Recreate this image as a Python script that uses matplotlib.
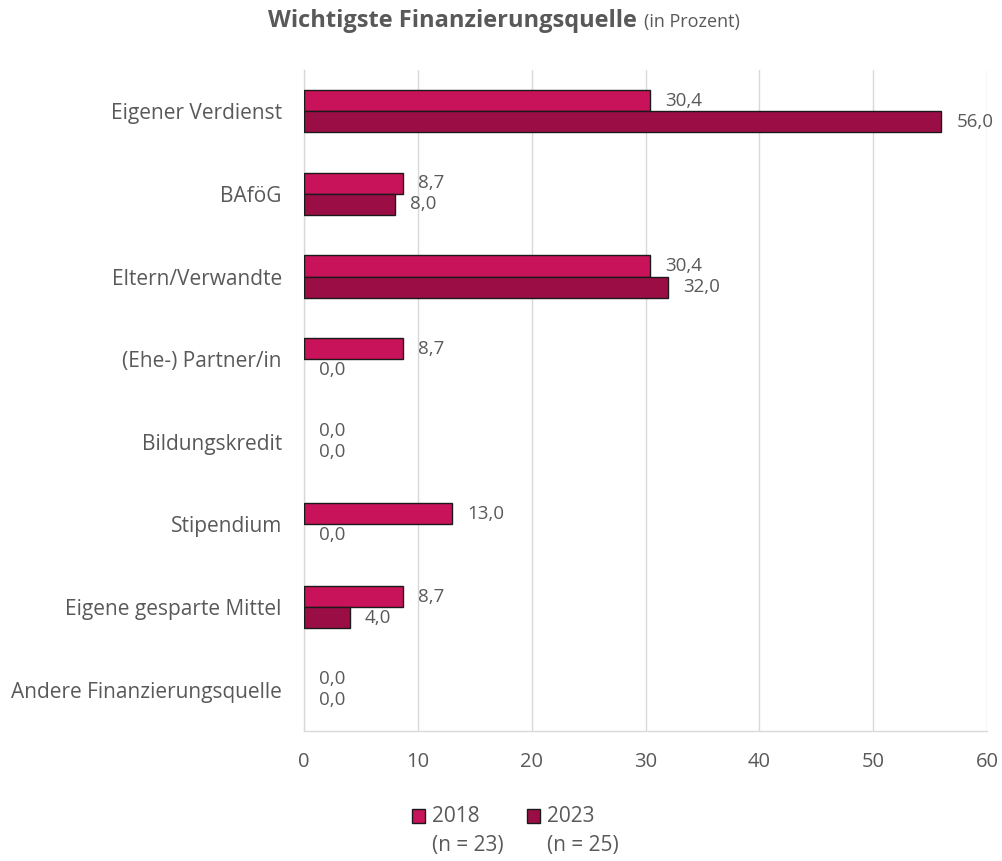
import matplotlib
matplotlib.use("Agg")
import matplotlib.pyplot as plt
from matplotlib.patches import Rectangle
import numpy as np

plt.rcParams['font.family'] = ['Open Sans', 'DejaVu Sans']

categories = ["Eigener Verdienst", "BAföG", "Eltern/Verwandte", "(Ehe-) Partner/in",
              "Bildungskredit", "Stipendium", "Eigene gesparte Mittel",
              "Andere Finanzierungsquelle"]
values_2018 = [30.4, 8.7, 30.4, 8.7, 0.0, 13.0, 8.7, 0.0]
values_2023 = [56.0, 8.0, 32.0, 0.0, 0.0, 0.0, 4.0, 0.0]
series_names = ["2018", "2023"]
series_n = ["(n = 23)", "(n = 25)"]
xticks = [0, 10, 20, 30, 40, 50, 60]

c2018 = "#C8125A"
c2023 = "#9B0E45"
txt = "#595959"

W, H = 1003, 861
fig = plt.figure(figsize=(W/100, H/100), dpi=100)
ax = fig.add_axes([304/W, 1-731/H, (987-304)/W, (731-70)/H])

n = len(categories)
y = np.arange(n)
h = 0.255
b1 = ax.barh(y - h/2, values_2018, height=h, color=c2018, edgecolor="#1a1a1a", linewidth=1.0, zorder=3)
b2 = ax.barh(y + h/2, values_2023, height=h, color=c2023, edgecolor="#1a1a1a", linewidth=1.0, zorder=3)

def fmt(v):
    return f"{v:.1f}".replace(".", ",")

for bars, vals in ((b1, values_2018), (b2, values_2023)):
    for rect, v in zip(bars, vals):
        if v == 0:
            rect.set_linewidth(0)
        ax.annotate(fmt(v), xy=(v, rect.get_y() + rect.get_height()/2),
                    xytext=(11, 0), textcoords="offset points",
                    ha="left", va="center", fontsize=13.5, color=txt)

ax.set_ylim(n - 0.5, -0.5)
ax.set_xlim(0, 60)
ax.set_xticks(xticks)
ax.set_xticklabels([str(t) for t in xticks], fontsize=14.5, color=txt)
ax.set_yticks(y)
ax.set_yticklabels(categories, fontsize=15, color=txt)
ax.tick_params(axis="both", length=0)
ax.tick_params(axis="x", pad=15)
ax.tick_params(axis="y", pad=16)
ax.grid(axis="x", color="#d9d9d9", linewidth=1.0, zorder=0)
for s in ("top", "right"):
    ax.spines[s].set_visible(False)
for s in ("left", "bottom"):
    ax.spines[s].set_color("#d9d9d9")
    ax.spines[s].set_linewidth(1.0)

# title
t1 = fig.text(268/W, 1-27/H, "Wichtigste Finanzierungsquelle", fontsize=17, fontweight="bold",
              color=txt, ha="left", va="baseline")
fig.canvas.draw()
bb = t1.get_window_extent()
fig.text((bb.x1 + 7)/W, 1-27/H, "(in Prozent)", fontsize=13, color=txt, ha="left", va="baseline")

# legend
for i, (name, nn, col) in enumerate(zip(series_names, series_n, (c2018, c2023))):
    x0 = 412 + i*115
    fig.patches.append(Rectangle((x0/W, 1-823/H), 13/W, 14/H, transform=fig.transFigure,
                                 facecolor=col, edgecolor="#1a1a1a", linewidth=1.0))
    fig.text((x0+20)/W, 1-816/H, name, fontsize=15, color=txt, ha="left", va="center")
    fig.text((x0+20)/W, 1-846/H, nn, fontsize=15, color=txt, ha="left", va="center")

fig.savefig("out.png", dpi=100, facecolor="white")
